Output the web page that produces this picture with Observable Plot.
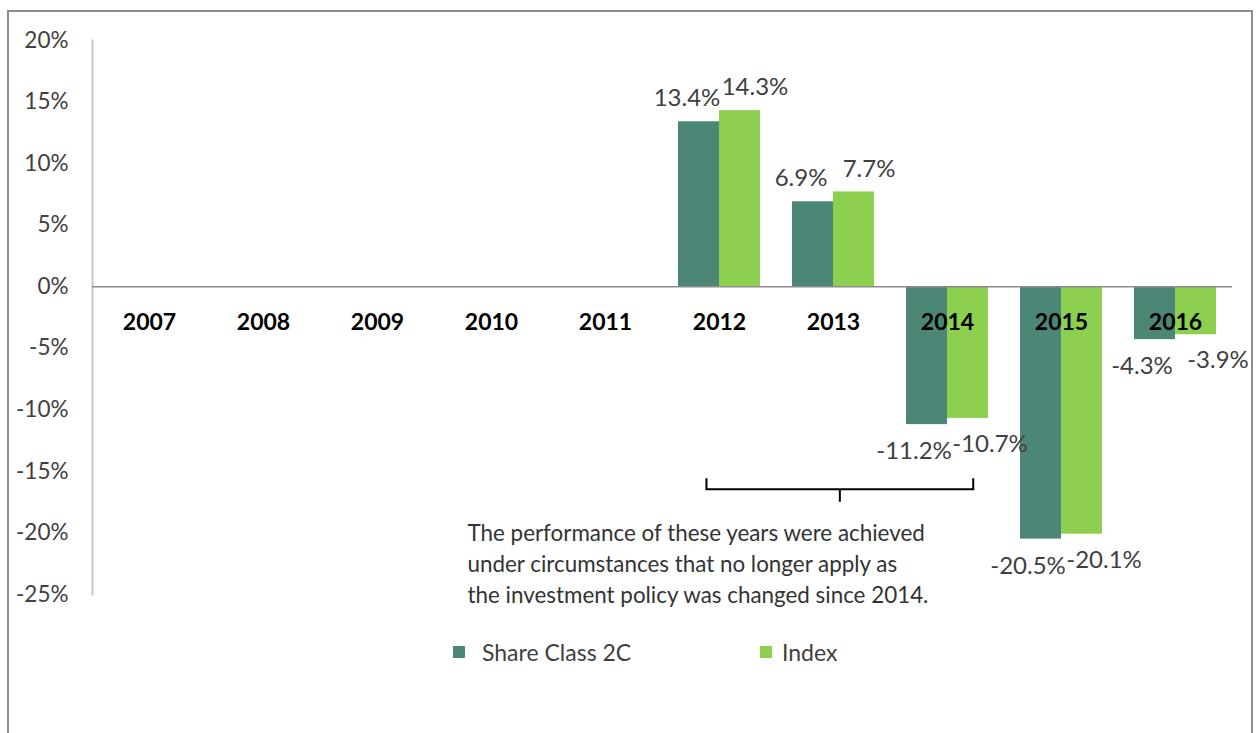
<!DOCTYPE html>
<html>
<head>
<meta charset="utf-8">
<script src="https://cdn.jsdelivr.net/npm/d3@7"></script>
<script src="https://cdn.jsdelivr.net/npm/@observablehq/plot@0.6"></script>
<style>
  html, body { margin: 0; padding: 0; overflow: hidden; background: #fff; }
  #wrap { position: relative; width: 1256px; height: 733px; }
  #border { position: absolute; left: 7px; top: 10px; width: 1246px; height: 800px; box-sizing: border-box; border: 2px solid #8c8c8c; border-bottom: none; pointer-events: none; }
  #chart { position: absolute; left: 0; top: 0; }
  #legend { position: absolute; top: 637px; left: 0; width: 1256px; height: 30px; font-family: Lato, "DejaVu Sans", sans-serif; font-size: 23px; color: #404040; }
  .item { position: absolute; top: 0; height: 30px; display: flex; align-items: center; }
  .sw { width: 12px; height: 12px; }
</style>
</head>
<body>
<div id="wrap">
  <div id="chart"></div>
  <div id="legend"></div>
  <div id="border"></div>
</div>
<script>
// ---- data ----
const years = ["2007", "2008", "2009", "2010", "2011", "2012", "2013", "2014", "2015", "2016"];
const seriesNames = ["Share Class 2C", "Index"];
const shareClass = [null, null, null, null, null, 13.4, 6.9, -11.2, -20.5, -4.3];
const indexValues = [null, null, null, null, null, 14.3, 7.7, -10.7, -20.1, -3.9];
const yTicks = [20, 15, 10, 5, 0, -5, -10, -15, -20, -25];
const noteLines = [
  "The performance of these years were achieved",
  "under circumstances that no longer apply as",
  "the investment policy was changed since 2014."
];
const colors = ["#4b8677", "#8dcf4f"];

// table for the library
const table = [];
years.forEach((y, i) => {
  if (shareClass[i] != null) table.push({year: y, series: seriesNames[0], value: shareClass[i]});
  if (indexValues[i] != null) table.push({year: y, series: seriesNames[1], value: indexValues[i]});
});

const fmt = v => v.toFixed(1) + "%";
const font = "Lato, 'DejaVu Sans', sans-serif";
const labelFill = "#404040";
const lblSize = 24;

const chart = Plot.plot({
  width: 1256,
  height: 620,
  marginLeft: 90,
  marginRight: 23,
  marginTop: 40,
  marginBottom: 26,
  style: {fontFamily: font, background: "transparent", overflow: "visible"},
  fx: {domain: years, padding: 0, axis: null, label: null},
  x: {domain: seriesNames, paddingInner: 0, paddingOuter: 0.39, axis: null, label: null},
  y: {domain: [-25, 20], axis: null, label: null},
  color: {domain: seriesNames, range: colors},
  marks: [
    Plot.frame({anchor: "left", facetAnchor: "left", stroke: "#c8c8c8", strokeWidth: 2}),
    Plot.axisY({ticks: yTicks, tickSize: 0, tickPadding: 24, tickFormat: d => d + "%", fontSize: 22.5, fill: labelFill, label: null}),
    Plot.barY(table, {fx: "year", x: "series", y: "value", fill: "series"}),
    Plot.ruleY([0], {stroke: "#8c8c8c", strokeWidth: 1.5}),
    Plot.text(years, {fx: d => d, y: () => 0, text: d => d, dy: 36, fontSize: 23, fontWeight: "bold", fill: "#000"}),
    // positive labels
    Plot.text(table, {filter: d => d.value >= 0 && d.series === seriesNames[0], fx: "year", x: "series", y: "value", text: d => fmt(d.value), dx: -12, dy: -23, fontSize: lblSize, fill: labelFill}),
    Plot.text(table, {filter: d => d.value >= 0 && d.series === seriesNames[1], fx: "year", x: "series", y: "value", text: d => fmt(d.value), dx: 15, dy: -23, fontSize: lblSize, fill: labelFill}),
    // negative labels
    Plot.text(table, {filter: d => d.value < 0 && d.series === seriesNames[0], fx: "year", x: "series", y: "value", text: d => fmt(d.value), dx: -13, dy: 27, fontSize: lblSize, fill: labelFill}),
    Plot.text(table, {filter: d => d.value < 0 && d.series === seriesNames[1], fx: "year", x: "series", y: "value", text: d => fmt(d.value), dx: 22, dy: 26, fontSize: lblSize, fill: labelFill}),
    // annotation
    Plot.text([noteLines.join("\n")], {fx: () => "2010", y: () => -22.35, frameAnchor: "left", textAnchor: "start", lineAnchor: "middle", dx: 33, lineHeight: 1.38, fontSize: 22.4, fill: "#333"})
  ]
});
document.getElementById("chart").appendChild(chart);

// bracket drawn through the chart's scales
const fxS = chart.scale("fx");
const yS = chart.scale("y");
const bw = fxS.bandwidth;
const bx1 = fxS.apply("2012") + 0.39 * bw;
const bx2 = fxS.apply("2014") + 0.73 * bw;
const bm = (bx1 + bx2) / 2;
const yMain = yS.apply(-16.5), yTop = yS.apply(-15.6), yTick = yS.apply(-17.5);
d3.select(chart).append("path")
  .attr("d", `M${bx1},${yTop}V${yMain}H${bx2}V${yTop}M${bm},${yMain}V${yTick}`)
  .attr("fill", "none").attr("stroke", "#000").attr("stroke-width", 2);

// legend
const legend = d3.select("#legend");
const legendX = [453, 760];
const legendGap = [17, 10];
seriesNames.forEach((s, i) => {
  const it = legend.append("div").attr("class", "item").style("left", legendX[i] + "px");
  it.append("div").attr("class", "sw").style("background", colors[i]).style("margin-right", legendGap[i] + "px");
  it.append("span").text(s);
});
</script>
</body>
</html>
